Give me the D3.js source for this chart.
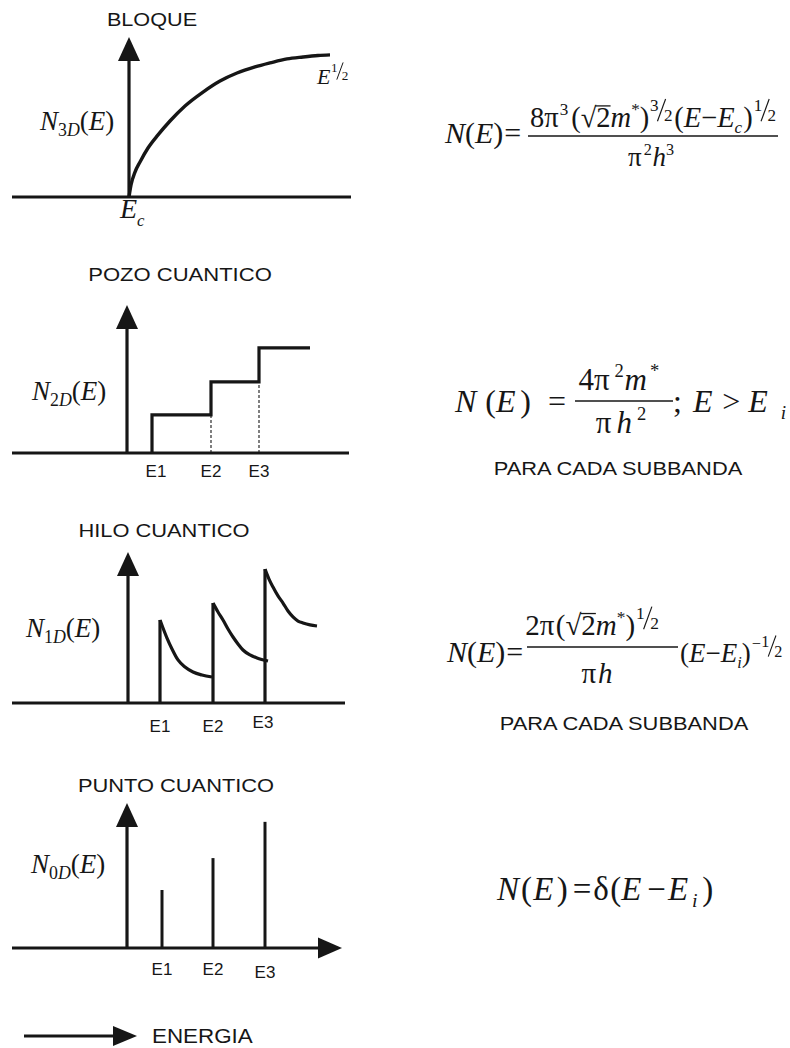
<!DOCTYPE html>
<html>
<head>
<meta charset="utf-8">
<script src="https://cdn.jsdelivr.net/npm/d3@7"></script>
<style>
  body { margin: 0; background: #fff; }
  svg { display: block; }
</style>
</head>
<body>
<script>
// ---- Density of states data (E measured from the band edge, N normalised to axis height) ----
// Bulk (3D): square-root-like rise from Ec
const bulkE = [0, 2, 6, 11, 19, 29, 41, 56, 74, 91, 108, 126, 141, 158, 174, 189, 201];
const bulkN = [0, 0.075, 0.156, 0.219, 0.306, 0.388, 0.475, 0.569, 0.656, 0.725, 0.775, 0.813, 0.838, 0.863, 0.875, 0.884, 0.888];

// Quantum well (2D): staircase
const wellLevels = [25, 84, 132];
const wellSteps = [0.257, 0.48, 0.71];
const wellEndE = 183;

// Quantum wire (1D): one decaying branch per subband
const wireLevels = [32, 85, 137];
const wireBranchE = [
  [32, 35, 39, 44, 50, 57, 65, 74, 84],
  [85, 90, 95, 100, 105, 110, 115, 122, 129, 140],
  [137, 141, 145, 150, 155, 160, 165, 170, 175, 182, 189]
];
const wireBranchN = [
  [0.55, 0.497, 0.43, 0.358, 0.285, 0.238, 0.205, 0.185, 0.172],
  [0.662, 0.603, 0.55, 0.49, 0.437, 0.391, 0.351, 0.318, 0.298, 0.278],
  [0.887, 0.821, 0.768, 0.709, 0.662, 0.609, 0.57, 0.543, 0.53, 0.517, 0.51]
];

// Quantum dot (0D): discrete levels
const dotLevels = [35, 86, 138];
const dotN = [0.40, 0.62, 0.87];

const levelLabels = ["E1", "E2", "E3"];
const titles = ["BLOQUE", "POZO CUANTICO", "HILO CUANTICO", "PUNTO CUANTICO"];

// ---- Layout ----
const W = 790, H = 1048;
const INK = "#161616";
const SANS = "'Liberation Sans', Arial, Helvetica, sans-serif";
const SERIF = "'Liberation Serif', 'Times New Roman', Times, serif";

const svg = d3.select("body").append("svg").attr("width", W).attr("height", H);

const panels = [
  { ox: 129, by: 197, ty: 37, left: 12, right: 351, titleX: 152, titleY: 26 },
  { ox: 127, by: 453, ty: 305, left: 12, right: 349, titleX: 180, titleY: 281 },
  { ox: 128, by: 703, ty: 552, left: 12, right: 345, titleX: 164, titleY: 537 },
  { ox: 127, by: 948, ty: 803, left: 12, right: 342, titleX: 176, titleY: 792 }
];
panels.forEach(p => {
  p.x = d3.scaleLinear().domain([p.left - p.ox, p.right - p.ox]).range([p.left, p.right]);
  p.y = d3.scaleLinear().domain([0, 1]).range([p.by, p.ty]);
  p.g = svg.append("g");
});

const HEAD_L = 24, HEAD_W = 11, STROKE = 3.2;

function upArrowAxis(p) {
  const x0 = p.x(0), yTop = p.y(1);
  p.g.append("line").attr("x1", x0).attr("x2", x0).attr("y1", p.y(0)).attr("y2", yTop + HEAD_L - 2)
    .attr("stroke", INK).attr("stroke-width", STROKE);
  p.g.append("path")
    .attr("d", `M${x0},${yTop}L${x0 - HEAD_W},${yTop + HEAD_L}L${x0 + HEAD_W},${yTop + HEAD_L}Z`)
    .attr("fill", INK);
}
function baseAxis(p, withArrow) {
  const [d0, d1] = p.x.domain();
  const xEnd = withArrow ? p.x(d1) - HEAD_L + 2 : p.x(d1);
  p.g.append("line").attr("x1", p.x(d0)).attr("x2", xEnd).attr("y1", p.y(0)).attr("y2", p.y(0))
    .attr("stroke", INK).attr("stroke-width", STROKE);
  if (withArrow) {
    const xt = p.x(d1), y0 = p.y(0);
    p.g.append("path")
      .attr("d", `M${xt},${y0}L${xt - HEAD_L},${y0 - 10.5}L${xt - HEAD_L},${y0 + 10.5}Z`)
      .attr("fill", INK);
  }
}
function sansText(g, str, x, y, size, stretch) {
  g.append("text").attr("font-family", SANS).attr("font-size", size).attr("fill", INK)
    .attr("text-anchor", "middle")
    .attr("transform", `translate(${x},${y}) scale(${stretch},1)`).text(str);
}

// ---- Inline math: one <text> per run, tspans carry italics, size and baseline shifts ----
const I = (t, o = {}) => ({ t, i: true, ...o });
const R = (t, o = {}) => ({ t, i: false, ...o });
const SUP = (t, o = {}) => ({ t, s: 0.6, dy: -0.42, ...o });
const SUB = (t, o = {}) => ({ t, s: 0.6, dy: 0.22, ...o });
// slanted exponent fraction (1/2, 3/2): raised numerator, stroked solidus, lowered denominator
const HALF = (a, b, o = {}) => [
  { t: a, s: 0.6, dy: -0.56, dx: 0.03 + (o.dx || 0) },
  { t: " ", s: 0.9, dy: -0.4, slash: true, dx: -0.02 },
  { t: b, s: 0.6, dy: -0.2, dx: -0.02 }
];

function mathRun(parent, toks, size) {
  const g = parent.append("g");
  const text = g.append("text").attr("font-family", SERIF).attr("font-size", size).attr("fill", INK)
    .style("white-space", "pre");
  let cur = 0, idx = 0;
  const bars = [], slashes = [];
  toks.forEach(tk => {
    const target = (tk.dy || 0) * size;
    text.append("tspan")
      .attr("dx", (tk.dx || 0) * size)
      .attr("dy", target - cur)
      .attr("font-size", size * (tk.s || 1))
      .attr("font-style", tk.i ? "italic" : "normal")
      .text(tk.t);
    cur = target;
    if (tk.bar) bars.push([idx, idx + tk.t.length - 1]);
    if (tk.slash) slashes.push(idx);
    idx += tk.t.length;
  });
  const node = text.node();
  bars.forEach(([a, b]) => {
    const s = node.getStartPositionOfChar(a).x, e = node.getEndPositionOfChar(b).x;
    g.append("line").attr("x1", s - 1).attr("x2", e).attr("y1", -0.74 * size).attr("y2", -0.74 * size)
      .attr("stroke", INK).attr("stroke-width", 1.3);
  });
  slashes.forEach(k => {
    const s = node.getStartPositionOfChar(k).x, e = node.getEndPositionOfChar(k).x;
    g.append("line").attr("x1", s - 0.02 * size).attr("y1", -0.2 * size)
      .attr("x2", e + 0.04 * size).attr("y2", -0.98 * size)
      .attr("stroke", INK).attr("stroke-width", Math.max(1, size * 0.04));
  });
  const bb = node.getBBox();
  g.datum(bb.x + bb.width);
  return g;
}
function mathAt(toks, x, y, size) {
  return mathRun(svg, toks, size).attr("transform", `translate(${x},${y})`);
}
function mathCentered(toks, cx, y, size) {
  const g = mathRun(svg, toks, size);
  return g.attr("transform", `translate(${cx - g.datum() / 2},${y})`);
}
function fracLine(x1, x2, y) {
  svg.append("line").attr("x1", x1).attr("x2", x2).attr("y1", y).attr("y2", y)
    .attr("stroke", INK).attr("stroke-width", 1.6);
}
const dosLabel = d => [I("N"), SUB(d, { dy: 0.24, s: 0.66 }), SUB("D", { i: true, dy: 0.24, s: 0.66 }), R("("), I("E"), R(")")];

// ---- Panel 1: bulk ----
{
  const p = panels[0];
  baseAxis(p, false);
  upArrowAxis(p);
  const line = d3.line().x(d => p.x(d[0])).y(d => p.y(d[1])).curve(d3.curveMonotoneX);
  p.g.append("path").datum(bulkE.map((e, i) => [e, bulkN[i]])).attr("d", line)
    .attr("fill", "none").attr("stroke", INK).attr("stroke-width", 3.4);
  sansText(p.g, titles[0], p.titleX, p.titleY, 19, 1.14);
  mathAt(dosLabel("3"), 40, 130, 27);
  mathAt([I("E"), SUB("c", { i: true, dy: 0.3 })], 120, 218, 28);
  mathAt([I("E"), ...HALF("1", "2")], 317, 84, 22);
}

// ---- Panel 2: quantum well ----
{
  const p = panels[1];
  baseAxis(p, false);
  upArrowAxis(p);
  // dashed guides under the step risers
  wellLevels.slice(1).forEach((e, i) => {
    p.g.append("line").attr("x1", p.x(e)).attr("x2", p.x(e)).attr("y1", p.y(0)).attr("y2", p.y(wellSteps[i]))
      .attr("stroke", INK).attr("stroke-width", 1.1).attr("stroke-dasharray", "3,2");
  });
  let d = `M${p.x(wellLevels[0])},${p.y(0)}`;
  wellLevels.forEach((e, i) => {
    const next = i < wellLevels.length - 1 ? wellLevels[i + 1] : wellEndE;
    d += `V${p.y(wellSteps[i])}H${p.x(next)}`;
  });
  p.g.append("path").attr("d", d).attr("fill", "none").attr("stroke", INK).attr("stroke-width", 3.2)
    .attr("stroke-linejoin", "miter");
  sansText(p.g, titles[1], p.titleX, p.titleY, 19, 1.16);
  levelLabels.forEach((l, i) => sansText(p.g, l, p.x(wellLevels[i]) + (i === 0 ? 4 : 0), 477, 17, 1));
  mathAt(dosLabel("2"), 32, 400, 27);
}

// ---- Panel 3: quantum wire ----
{
  const p = panels[2];
  baseAxis(p, false);
  upArrowAxis(p);
  const line = d3.line().x(d => p.x(d[0])).y(d => p.y(d[1])).curve(d3.curveMonotoneX);
  wireLevels.forEach((e, i) => {
    p.g.append("line").attr("x1", p.x(e)).attr("x2", p.x(e)).attr("y1", p.y(0)).attr("y2", p.y(wireBranchN[i][0]))
      .attr("stroke", INK).attr("stroke-width", 3.2);
    p.g.append("path").datum(wireBranchE[i].map((v, j) => [v, wireBranchN[i][j]])).attr("d", line)
      .attr("fill", "none").attr("stroke", INK).attr("stroke-width", 3.2);
  });
  sansText(p.g, titles[2], p.titleX, p.titleY, 19, 1.15);
  const ly = [732, 732, 728];
  levelLabels.forEach((l, i) => sansText(p.g, l, p.x(wireLevels[i]) - (i === 2 ? 2 : 0), ly[i], 17, 1));
  mathAt(dosLabel("1"), 26, 637, 27);
}

// ---- Panel 4: quantum dot ----
{
  const p = panels[3];
  baseAxis(p, true);
  upArrowAxis(p);
  dotLevels.forEach((e, i) => {
    p.g.append("line").attr("x1", p.x(e)).attr("x2", p.x(e)).attr("y1", p.y(0)).attr("y2", p.y(dotN[i]))
      .attr("stroke", INK).attr("stroke-width", 3);
  });
  sansText(p.g, titles[3], p.titleX, p.titleY, 19, 1.15);
  const ly = [975, 975, 978];
  levelLabels.forEach((l, i) => sansText(p.g, l, p.x(dotLevels[i]), ly[i], 17, 1));
  mathAt(dosLabel("0"), 31, 873, 27);
}

// ---- Energy direction key ----
svg.append("line").attr("x1", 24).attr("x2", 116).attr("y1", 1036).attr("y2", 1036)
  .attr("stroke", INK).attr("stroke-width", STROKE);
svg.append("path").attr("d", "M137,1036L113,1026L113,1046Z").attr("fill", INK);
svg.append("text").attr("font-family", SANS).attr("font-size", 20).attr("fill", INK)
  .attr("transform", "translate(152,1043) scale(1.12,1)").text("ENERGIA");

// ---- Formulas ----
// 3D
mathAt([I("N"), R("("), I("E"), R(")"), R("=", { dx: 0.03 })], 445, 143, 30);
fracLine(528, 778, 136);
mathCentered([R("8π"), SUP("3", { dx: 0.04 }), R("(", { dx: 0.1 }), R("√"), R("2", { bar: true }), I("m"), SUP("*"), R(")"),
  ...HALF("3", "2"), R("(", { dx: 0.06 }), I("E"), R("−"), I("E"), SUB("c", { i: true }), R(")", { dx: 0.04 }), ...HALF("1", "2")],
  653, 127, 28.5);
mathCentered([R("π"), SUP("2", { dx: 0.08 }), I("h", { dx: 0.02 }), SUP("3")], 651, 166, 27);

// 2D
mathAt([I("N"), R("(", { dx: 0.28 }), I("E"), R(")", { dx: 0.15 }), R("=", { dx: 0.53 })], 455, 412, 32);
fracLine(575, 673, 401);
mathCentered([R("4π"), SUP("2", { dx: 0.15 }), I("m", { dx: 0.03 }), SUP("*", { dx: 0.1 })], 619, 390, 31);
mathCentered([R("π"), I("h", { dx: 0.16 }), SUP("2", { dx: 0.16 })], 621, 433, 31);
mathAt([R(";"), I("E", { dx: 0.35 }), R(">", { dx: 0.3 }), I("E", { dx: 0.25 }), SUB("i", { i: true, dx: 0.4 })], 673, 412, 32);
sansText(svg, "PARA CADA SUBBANDA", 618, 475, 19, 1.15);

// 1D
mathAt([I("N"), R("("), I("E"), R(")"), R("=", { dx: 0.03 })], 447, 662, 30);
fracLine(527, 678, 647);
mathCentered([R("2π"), R("(", { dx: 0.05 }), R("√"), R("2", { bar: true }), I("m"), SUP("*"), R(")"), ...HALF("1", "2")], 592, 635, 29);
mathCentered([R("π"), I("h", { dx: 0.06 })], 597, 683, 29);
mathAt([R("("), I("E"), R("−"), I("E"), SUB("i", { i: true }), R(")"), SUP("−", { dy: -0.5, dx: 0.04 }), ...HALF("1", "2", { dx: -0.02 })],
  680, 662, 27);
sansText(svg, "PARA CADA SUBBANDA", 624, 730, 19, 1.15);

// 0D
mathAt([I("N"), R("(", { dx: 0.06 }), I("E", { dx: 0.04 }), R(")", { dx: 0.1 }), R("=", { dx: 0.15 }), R("δ", { dx: 0.06 }),
  R("(", { dx: 0.04 }), I("E"), R("−", { dx: 0.18 }), I("E", { dx: 0.06 }), SUB("i", { i: true, dx: 0.12 }), R(")", { dx: 0.14 })],
  497, 900, 33);
</script>
</body>
</html>
